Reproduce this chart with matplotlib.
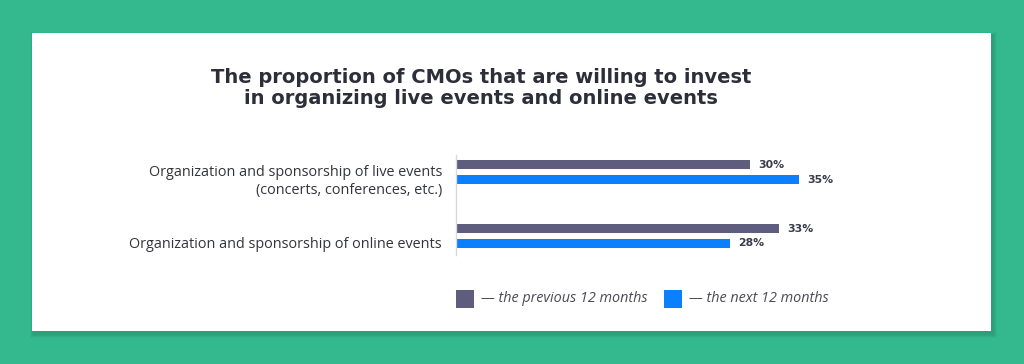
import matplotlib
matplotlib.use("Agg")
import matplotlib.pyplot as plt
from matplotlib.patches import Rectangle

# data
categories = ["Organization and sponsorship of live events\n(concerts, conferences, etc.)",
              "Organization and sponsorship of online events"]
previous_12 = [30, 33]
next_12 = [35, 28]
series_labels = ["\u2014 the previous 12 months", "\u2014 the next 12 months"]
title = "The proportion of CMOs that are willing to invest\nin organizing live events and online events"

GREEN = "#33B98D"
GRAY = "#5F5D7D"
BLUE = "#0A80FF"
TEXT = "#2E2E3A"

W, H = 1024, 364
fig = plt.figure(figsize=(W / 100, H / 100), dpi=100)
fig.patch.set_facecolor(GREEN)

# card shadow + card
for i, a in enumerate([0.06, 0.08, 0.10, 0.12]):
    d = 4 - i
    fig.patches.append(Rectangle(((32 - d + 2) / W, (H - 331 - d - 3) / H), (959 + 2 * d) / W, (298 + 2 * d) / H,
                                 transform=fig.transFigure, color="#1d6e53", alpha=a, zorder=0, lw=0))
fig.patches.append(Rectangle((32 / W, (H - 331) / H), 959 / W, 298 / H,
                             transform=fig.transFigure, color="white", zorder=1, lw=0))

fig.text(481 / W, 1 - 88 / H, title, ha="center", va="center", fontsize=14, fontweight="bold",
         color=TEXT, family="DejaVu Sans", linespacing=1.1, zorder=5)

ax = fig.add_axes([456 / W, (H - 255) / H, 392 / W, 100 / H])
ax.set_zorder(5)
ax.set_facecolor("none")
ax.set_xlim(0, 40)
ax.set_ylim(1.297, -0.266)

h = 0.148
off = 0.117
pos = range(len(categories))
b1 = ax.barh([p - off for p in pos], previous_12, height=h, color=GRAY)
b2 = ax.barh([p + off for p in pos], next_12, height=h, color=BLUE)
for bars, vals in ((b1, previous_12), (b2, next_12)):
    for bar, v in zip(bars, vals):
        ax.text(bar.get_width() + 0.8, bar.get_y() + bar.get_height() / 2, f"{v}%",
                va="center", ha="left", fontsize=7.8, fontweight="bold", color="#3a3a4a")

# category labels sit a little below the group centre
ax.set_yticks([p + 0.1 for p in pos])
ax.set_yticklabels(categories, fontsize=10.4, color="#33333d", family="Open Sans", ha="right",
                   linespacing=1.25)
ax.tick_params(axis="y", length=0, pad=10)
ax.set_xticks([])
for s in ["top", "right", "bottom"]:
    ax.spines[s].set_visible(False)
ax.spines["left"].set_color("#d8d8d8")
ax.spines["left"].set_linewidth(1)

# legend
for x0, c, lab in ((456, GRAY, series_labels[0]), (664, BLUE, series_labels[1])):
    fig.patches.append(Rectangle((x0 / W, (H - 308) / H), 18 / W, 18 / H,
                                 transform=fig.transFigure, color=c, zorder=3, lw=0))
    fig.text((x0 + 25) / W, 1 - 299 / H, lab, ha="left", va="center", fontsize=10.4,
             style="italic", color="#4a4a55", family="Open Sans", zorder=5)

fig.savefig("out.png", dpi=100, facecolor=fig.get_facecolor())
